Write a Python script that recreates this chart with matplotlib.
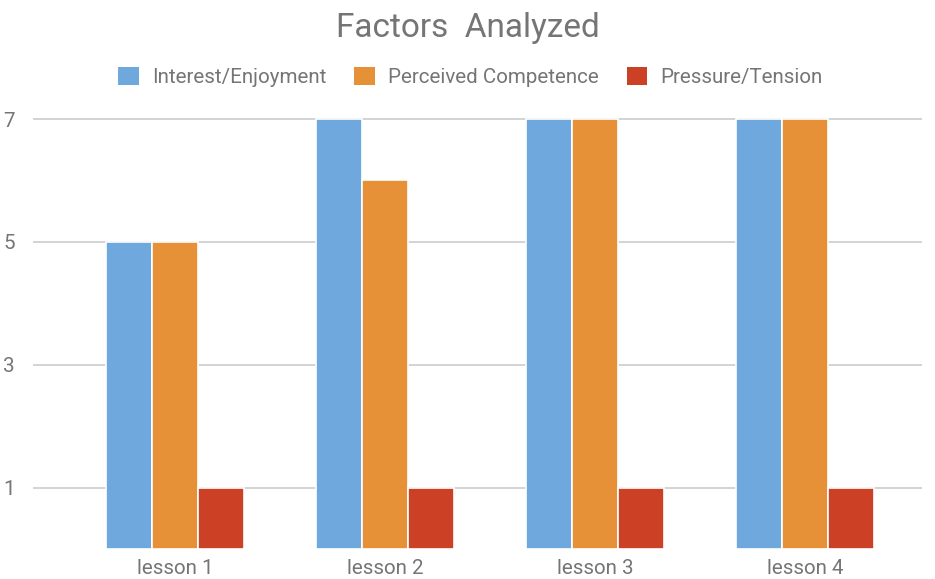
import matplotlib.pyplot as plt
import numpy as np
from matplotlib.patches import Patch

plt.rcParams['font.family'] = ['Roboto', 'DejaVu Sans']

# data
lessons = ['lesson 1', 'lesson 2', 'lesson 3', 'lesson 4']
series_names = ['Interest/Enjoyment', 'Perceived Competence', 'Pressure/Tension']
interest = [5, 7, 7, 7]
competence = [5, 6, 7, 7]
pressure = [1, 1, 1, 1]
colors = ['#6fa8dc', '#e69138', '#cc4125']
yticks = [1, 3, 5, 7]

grey = '#757575'

fig = plt.figure(figsize=(9.35, 5.79), dpi=100)
ax = fig.add_axes([33/935, 30/579, (922-33)/935, (549-116)/579])

x = np.arange(len(lessons))
w = 0.219
for k, (vals, col) in enumerate(zip([interest, competence, pressure], colors)):
    ax.bar(x + (k-1)*w, vals, width=w, color=col, edgecolor='white',
           linewidth=1.2, zorder=3)

ax.set_xlim(-0.676, 3.557)
ax.set_ylim(0, 7.05)
ax.set_yticks(yticks)
ax.set_xticks(x)
ax.set_xticklabels(lessons)
ax.grid(axis='y', color='#cccccc', linewidth=1.2, zorder=0)
for s in ax.spines.values():
    s.set_visible(False)
ax.tick_params(axis='both', length=0, labelsize=14.8, labelcolor=grey)
ax.tick_params(axis='y', pad=13)
ax.tick_params(axis='x', pad=7)

fig.text(0.5, 1 - 28/579, 'Factors  Analyzed', ha='center', va='center',
         fontsize=24, color=grey)

handles = [Patch(facecolor=c, edgecolor='none') for c in colors]
fig.legend(handles, series_names, loc='center', bbox_to_anchor=(0.5 + 3/935, 1 - 77/579),
           ncol=3, frameon=False, fontsize=14.8, labelcolor=grey,
           handlelength=1.0, handleheight=1.0, handletextpad=0.65,
           columnspacing=1.35)

fig.savefig('out.png', dpi=100)
